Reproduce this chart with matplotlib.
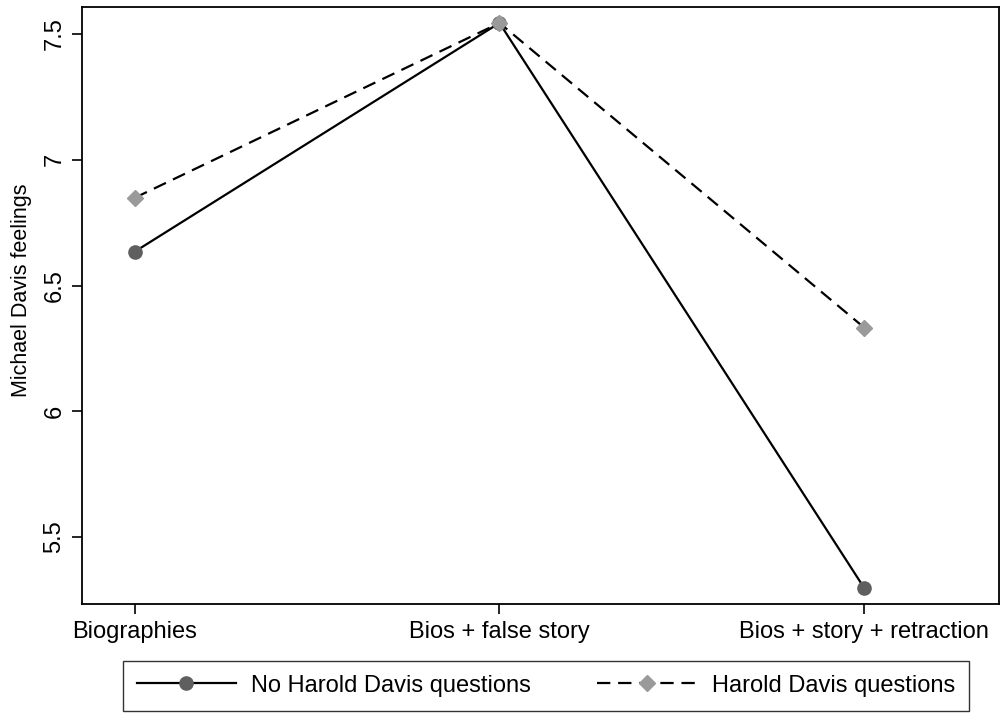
import matplotlib
matplotlib.use('Agg')
from matplotlib import pyplot as plt

plt.rcParams['font.family'] = ['Liberation Sans', 'DejaVu Sans']

conditions = ['Biographies', 'Bios + false story', 'Bios + story + retraction']
no_hd = [6.635, 7.544, 5.298]
hd = [6.849, 7.544, 6.333]
y_ticks = [5.5, 6, 6.5, 7, 7.5]
y_labels = ['5.5', '6', '6.5', '7', '7.5']

fig = plt.figure(figsize=(10, 7.13), dpi=100)
ax = fig.add_axes([0.082, 0.153, 0.917, 0.837])
x = [1, 2, 3]

ax.plot(x, no_hd, color='black', linewidth=1.6, marker='o', markersize=9.5,
        markerfacecolor='#5f5f5f', markeredgecolor='#5f5f5f', label='No Harold Davis questions')
ax.plot(x, hd, color='black', linewidth=1.6, linestyle=(0, (6, 3.5)), marker='D', markersize=8.5,
        markerfacecolor='#9a9a9a', markeredgecolor='#9a9a9a', label='Harold Davis questions')

ax.set_xlim(0.855, 3.37)
ax.set_ylim(5.234, 7.607)
ax.set_xticks(x)
ax.set_xticklabels(conditions, fontsize=17)
ax.set_yticks(y_ticks)
ax.set_yticklabels(y_labels, fontsize=17, rotation=90, va='center')
ax.set_ylabel('Michael Davis feelings', fontsize=15.5)
ax.yaxis.set_label_coords(-0.054, 0.525)
ax.tick_params(direction='out', length=7, width=1.2, pad=5)
for s in ax.spines.values():
    s.set_linewidth(1.3)

leg = fig.legend(loc='lower center', bbox_to_anchor=(0.546, 0.003), ncol=2, fontsize=17,
                 frameon=True, fancybox=False, edgecolor='black', handlelength=4.2,
                 columnspacing=2.8, borderpad=0.6, handletextpad=0.65, borderaxespad=0)
leg.get_frame().set_linewidth(1.0)

fig.savefig('out.png', dpi=100)
